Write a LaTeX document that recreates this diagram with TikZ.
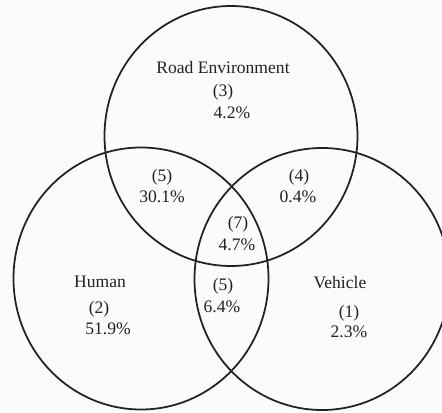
\documentclass[tikz,border=0pt]{standalone}
\usepackage{fontspec}
\setmainfont{Liberation Serif}
\definecolor{ink}{RGB}{34,34,34}
\definecolor{paper}{RGB}{251,250,252}

\begin{document}
\begin{tikzpicture}[x=0.03cm,y=0.03cm,
set/.style={draw=ink,line width=1.5pt},
lbl/.style={text=ink,inner sep=0pt,text height=10.8pt,text depth=1pt,
    font=\fontsize{15}{18}\selectfont}]
\fill [paper] (0,0) rectangle (442,412);
\useasboundingbox (0,0) rectangle (442,412);
% centres of the three sets
\coordinate (roadc) at (231,276);
\coordinate (humanc) at (141,133.5);
\coordinate (vehiclec) at (322,133);
\begin{scope}
\clip (0,0) rectangle (442,412);
\draw [set] (roadc) circle [x radius=126.5, y radius=130];
\draw [set] (humanc) circle [x radius=127.5, y radius=131];
\draw [set] (vehiclec) circle [x radius=127.5, y radius=131];
\end{scope}
% road environment only
\node (road) [lbl] at (223,344) {Road Environment};
\node (roadno) [lbl] at (223,321) {(3)};
\node (roadpct) [lbl] at (232,299) {4.2\%};
% road and human
\node (rhno) [lbl] at (162,236) {(5)};
\node (rhpct) [lbl] at (162,215) {30.1\%};
% road and vehicle
\node (rvno) [lbl] at (299,236) {(4)};
\node (rvpct) [lbl] at (298,215) {0.4\%};
% all three
\node (allno) [lbl] at (238,189) {(7)};
\node (allpct) [lbl] at (237,167) {4.7\%};
% human only
\node (human) [lbl] at (100,130) {Human};
\node (humanno) [lbl] at (99,104) {(2)};
\node (humanpct) [lbl] at (108,83) {51.9\%};
% human and vehicle
\node (hvno) [lbl] at (223,127) {(5)};
\node (hvpct) [lbl] at (222,105) {6.4\%};
% vehicle only
\node (vehicle) [lbl] at (340,129) {Vehicle};
\node (vehicleno) [lbl] at (349,100) {(1)};
\node (vehiclepct) [lbl] at (349,80) {2.3\%};
\end{tikzpicture}
\end{document}
